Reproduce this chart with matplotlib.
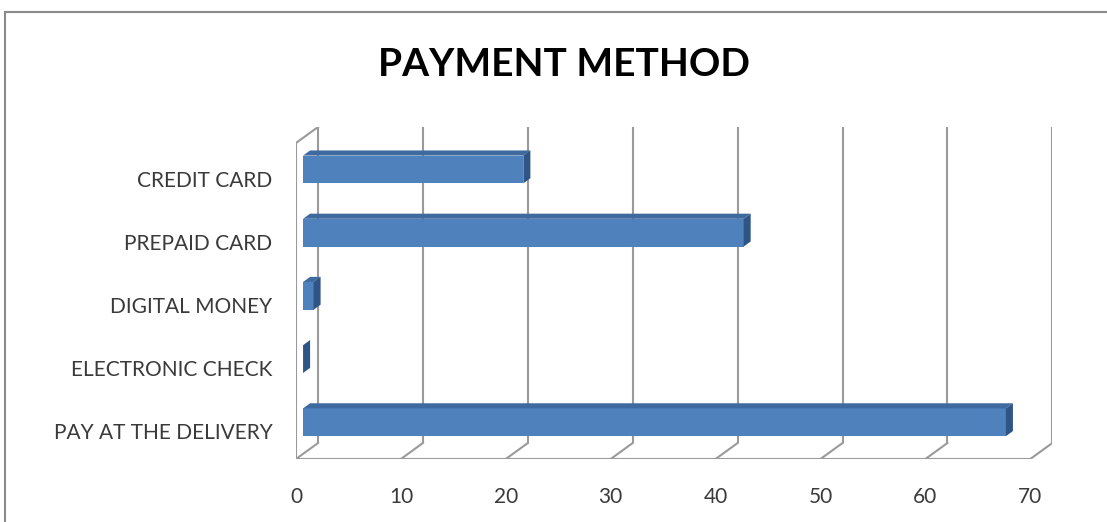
import matplotlib
matplotlib.use("Agg")
import matplotlib.pyplot as plt
from matplotlib.patches import Polygon, Rectangle
import matplotlib.transforms as mtransforms

categories = ["CREDIT CARD", "PREPAID CARD", "DIGITAL MONEY", "ELECTRONIC CHECK", "PAY AT THE DELIVERY"]
values = [21, 42, 1, 0, 67]
xticks = [0, 10, 20, 30, 40, 50, 60, 70]
title = "PAYMENT METHOD"

W, H = 1107, 522
fig = plt.figure(figsize=(W / 100, H / 100), dpi=100)

# 3D depth offsets in data units
DX, DY = 2.1, 0.253
XMAX = 70
n = len(categories)
ypos = [n - 1 - i for i in range(n)]

ax = fig.add_axes([296 / W, 63 / H, (296 + (XMAX + DX) * 10.49 - 296) / W, (395 - 63) / H])
ax.set_xlim(0, XMAX + DX)
ax.set_ylim(-0.5, n - 0.5 + DY)
for s in ax.spines.values():
    s.set_visible(False)

grid_c = "#9a9a9a"
glw = 1.5
y0, y1 = -0.5, n - 0.5
# back wall gridlines and floor diagonals
for v in xticks:
    ax.plot([v + DX, v + DX], [y0 + DY, y1 + DY], color=grid_c, lw=glw, zorder=1, solid_capstyle="butt")
    ax.plot([v, v + DX], [y0, y0 + DY], color=grid_c, lw=glw, zorder=1)
# front floor line
ax.plot([0, XMAX], [y0, y0], color=grid_c, lw=glw, zorder=1)
# left wall
ax.plot([0, 0], [y0, y1], color=grid_c, lw=glw, zorder=1)
ax.plot([0, DX], [y1, y1 + DY], color=grid_c, lw=glw, zorder=1)

# bars
d0, d1 = 0.32, 0.64
bh = 0.44
front_c = "#4f81bd"
top_c = "#3e6aa0"
side_c = "#2f5586"
for yc, v in zip(ypos, values):
    ox, oy = d0 * DX, d0 * DY
    bx, by = (d1 - d0) * DX, (d1 - d0) * DY
    yb = yc - bh / 2 + oy
    yt = yc + bh / 2 + oy
    ax.barh(yc + oy, v, height=bh, left=ox, color=front_c, edgecolor="none", zorder=3)
    # top face
    if v > 0:
        ax.add_patch(Polygon([(ox, yt), (ox + v, yt), (ox + v + bx, yt + by), (ox + bx, yt + by)],
                             closed=True, facecolor=top_c, edgecolor="none", zorder=3))
    # side face
    ax.add_patch(Polygon([(ox + v, yb), (ox + v + bx, yb + by), (ox + v + bx, yt + by), (ox + v, yt)],
                         closed=True, facecolor=side_c, edgecolor="none", zorder=3))

lab_font = ["Lato", "DejaVu Sans"]
ax.set_yticks(ypos)
ax.set_yticklabels(categories, family=lab_font, fontsize=15, color="#3a3a3a")
ax.set_xticks(xticks)
ax.set_xticklabels([str(t) for t in xticks], family=lab_font, fontsize=15, color="#3a3a3a")
ax.tick_params(axis="both", length=0)
ax.tick_params(axis="y", pad=17)
ax.tick_params(axis="x", pad=20)
off = mtransforms.ScaledTranslation(0, -4 / 100, fig.dpi_scale_trans)
for lab in ax.get_yticklabels():
    lab.set_transform(lab.get_transform() + off)

fig.text(564 / W, 1 - 64 / H, title, ha="center", va="center", fontsize=28, fontweight="bold",
         family=["Lato", "DejaVu Sans"], color="black")

# chart frame
fig.add_artist(Rectangle((5 / W, -0.1), 1.2, 1 - 12 / H + 0.1, transform=fig.transFigure,
                         fill=False, edgecolor="#8a8a8a", lw=1.5))

fig.savefig("out.png", dpi=100, facecolor="white")
